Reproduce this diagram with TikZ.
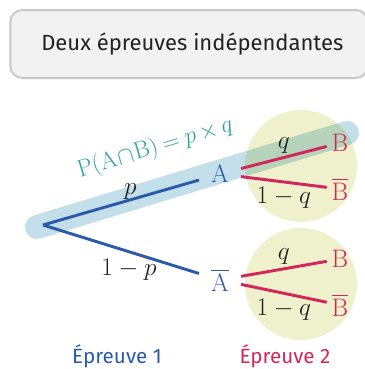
\documentclass[tikz,border=0pt]{standalone}
\usepackage{fix-cm}
\usepackage{fontspec}
\setsansfont{Fira Sans}
\usepackage{amsmath,amssymb}
\usetikzlibrary{positioning}
\definecolor{boxfill}{HTML}{F2F2F2}
\definecolor{boxline}{HTML}{C8C8C8}
\definecolor{treeblue}{HTML}{2B5BA8}
\definecolor{treered}{HTML}{D2275A}
\definecolor{bandblue}{HTML}{C3E0EA}
\definecolor{disccol}{HTML}{EEF1CC}
\definecolor{teal}{HTML}{2CA3A8}
\definecolor{ink}{HTML}{222222}

\begin{document}
\begin{tikzpicture}[x=0.75pt, y=-0.75pt,
  titlebox/.style={draw=boxline, line width=1.5pt, fill=boxfill, rounded corners=9pt,
    minimum width=268pt, minimum height=51pt, font=\sffamily\fontsize{16.5}{20}\selectfont, text=ink},
  disc/.style={circle, fill=disccol, minimum size=84pt, inner sep=0pt},
  first/.style={text=treeblue, font=\fontsize{19}{19}\selectfont, inner xsep=9pt, inner ysep=2pt},
  second/.style={text=treered, font=\fontsize{19}{19}\selectfont, inner xsep=3.5pt, inner ysep=2pt},
  prob/.style={text=ink, font=\fontsize{19}{19}\selectfont, inner sep=2pt},
  branch1/.style={draw=treeblue, line width=2.2pt},
  branch2/.style={draw=treered, line width=2.2pt},
  epreuve/.style={font=\sffamily\fontsize{15.5}{18}\selectfont}
]
  \useasboundingbox (0,0) rectangle (365,369);

  % Title
  \node[titlebox] (title) at (189,44) {\hspace*{5pt}Deux épreuves indépendantes};

  % Second experiment discs
  \node[disc] (disc1) at (301,166) {};
  \node[disc] (disc2) at (301,284) {};

  % Highlighted path
  \coordinate (bandL) at (37,227);
  \coordinate (bandR) at (347,133);
  \begin{scope}[blend mode=multiply]
    \draw[bandblue, line width=18pt, line cap=round] (bandL) -- (bandR)
      node[pos=0.42, sloped, above=12pt, inner sep=1pt, text=teal, font=\fontsize{18}{18}\selectfont]
      (inter) {$\mathrm{P(A\mkern1mu{\cap}\mkern1mu B)}\mkern4mu{=}\mkern4mu p\mkern3mu{\times}\mkern3mu q$};
  \end{scope}

  % Tree
  \coordinate (root) at (43,225);
  \node[first] (A) at (220,174) {$\mathrm{A}$};
  \node[first] (Abar) at (220,280) {$\overline{\mathrm{A}}$};

  \node[second] (B1) at (340,143) {$\mathrm{B}$};
  \node[second] (Bbar1) at (340,189) {$\overline{\mathrm{B}}$};
  \node[second] (B2) at (340,259) {$\mathrm{B}$};
  \node[second] (Bbar2) at (340,305) {$\overline{\mathrm{B}}$};

  \draw[branch1] (root) -- (A) node[midway, above=-1pt, xshift=7pt, prob] {$p$};
  \draw[branch1] (root) -- (Abar) node[midway, below=4pt, xshift=6pt, prob] {$1-p$};
  \draw[branch2] (A) -- (B1) node[midway, above=0pt, prob] {$q$};
  \draw[branch2] (A) -- (Bbar1) node[midway, below=1pt, prob] {$1-q$};
  \draw[branch2] (Abar) -- (B2) node[midway, above=0pt, prob] {$q$};
  \draw[branch2] (Abar) -- (Bbar2) node[midway, below=1pt, prob] {$1-q$};

  % Experiment labels
  \node[epreuve, text=treeblue] (ep1) at (117,356) {Épreuve 1};
  \node[epreuve, text=treered] (ep2) at (285,356) {Épreuve 2};
\end{tikzpicture}
\end{document}
